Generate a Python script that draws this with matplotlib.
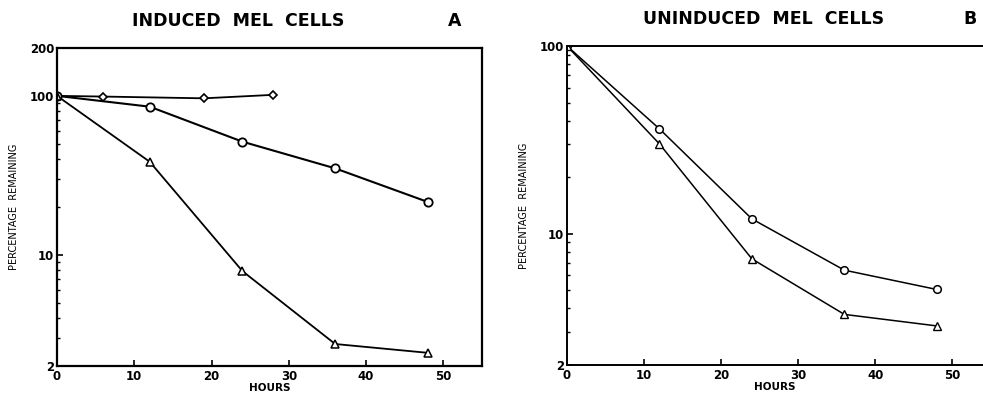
import matplotlib
matplotlib.use('Agg')
import matplotlib.pyplot as plt
from matplotlib.ticker import FixedLocator, NullFormatter, LogLocator

# Panel A: induced MEL cells
a_diamond_hours = [0, 6, 19, 28]
a_diamond_pct = [100, 99, 96.5, 101.5]
a_circle_hours = [0, 12, 24, 36, 48]
a_circle_pct = [100, 85.5, 51.5, 35, 21.5]
a_triangle_hours = [0, 12, 24, 36, 48]
a_triangle_pct = [100, 38.5, 7.9, 2.75, 2.42]

# Panel B: uninduced MEL cells
b_circle_hours = [0, 12, 24, 36, 48]
b_circle_pct = [100, 36.2, 12.0, 6.4, 5.05]
b_triangle_hours = [0, 12, 24, 36, 48]
b_triangle_pct = [100, 30.1, 7.35, 3.72, 3.23]

x_ticks = [0, 10, 20, 30, 40, 50]
a_y_ticks = [2, 10, 100, 200]
b_y_ticks = [2, 10, 100]

W, H = 983, 401
fig = plt.figure(figsize=(W / 100, H / 100), dpi=100)

tick_font = dict(family='DejaVu Sans', weight='bold', size=8.5)


def style_axis(ax, yticks):
    ax.set_yscale('log')
    ax.set_xticks(x_ticks)
    ax.set_xticklabels([str(t) for t in x_ticks], fontdict=tick_font)
    ax.yaxis.set_major_locator(FixedLocator(yticks))
    ax.set_yticklabels([str(t) for t in yticks], fontdict=tick_font)
    ax.yaxis.set_minor_locator(LogLocator(base=10, subs=range(2, 10)))
    ax.yaxis.set_minor_formatter(NullFormatter())
    ax.tick_params(axis='both', which='major', direction='in', length=4, width=1.2, pad=2)
    ax.tick_params(axis='y', which='minor', direction='in', length=2.5, width=1)
    ax.tick_params(axis='x', which='major', pad=3)
    ax.set_xlabel('HOURS', fontsize=7.5, labelpad=0, fontweight='bold')
    ax.set_ylabel('PERCENTAGE  REMAINING', fontsize=7, labelpad=8)


# Panel A
axA = fig.add_axes([57 / W, 1 - 366 / H, (482 - 57) / W, (366 - 48) / H])
axA.plot(a_diamond_hours, a_diamond_pct, color='black', lw=1.3, marker='D', ms=4.5,
         mfc='white', mec='black', mew=1.2)
axA.plot(a_circle_hours, a_circle_pct, color='black', lw=1.5, marker='o', ms=6,
         mfc='white', mec='black', mew=1.3)
axA.plot(a_triangle_hours, a_triangle_pct, color='black', lw=1.3, marker='^', ms=6,
         mfc='white', mec='black', mew=1.1)
axA.set_xlim(0, 55)
axA.set_ylim(2, 200)
for s in axA.spines.values():
    s.set_linewidth(1.6)
style_axis(axA, a_y_ticks)

# Panel B
axB = fig.add_axes([567 / W, 1 - 365 / H, (983 - 567) / W, (365 - 46) / H])
axB.plot(b_circle_hours, b_circle_pct, color='black', lw=1.1, marker='o', ms=5.5,
         mfc='white', mec='black', mew=1.1)
axB.plot(b_triangle_hours, b_triangle_pct, color='black', lw=1.1, marker='^', ms=5.5,
         mfc='white', mec='black', mew=1.0)
axB.set_xlim(0, 54)
axB.set_ylim(2, 100)
axB.spines['right'].set_visible(False)
for s in ['left', 'bottom', 'top']:
    axB.spines[s].set_linewidth(1.4)
style_axis(axB, b_y_ticks)

# Titles
title_font = dict(fontsize=12.5, fontweight='heavy', family='DejaVu Sans')
fig.text(238 / W, 1 - 21 / H, 'INDUCED  MEL  CELLS', ha='center', va='center', **title_font)
fig.text(455 / W, 1 - 21 / H, 'A', ha='center', va='center', **title_font)
fig.text(764 / W, 1 - 19 / H, 'UNINDUCED  MEL  CELLS', ha='center', va='center', **title_font)
fig.text(970 / W, 1 - 19 / H, 'B', ha='center', va='center', **title_font)

fig.savefig('out.png', dpi=100)
